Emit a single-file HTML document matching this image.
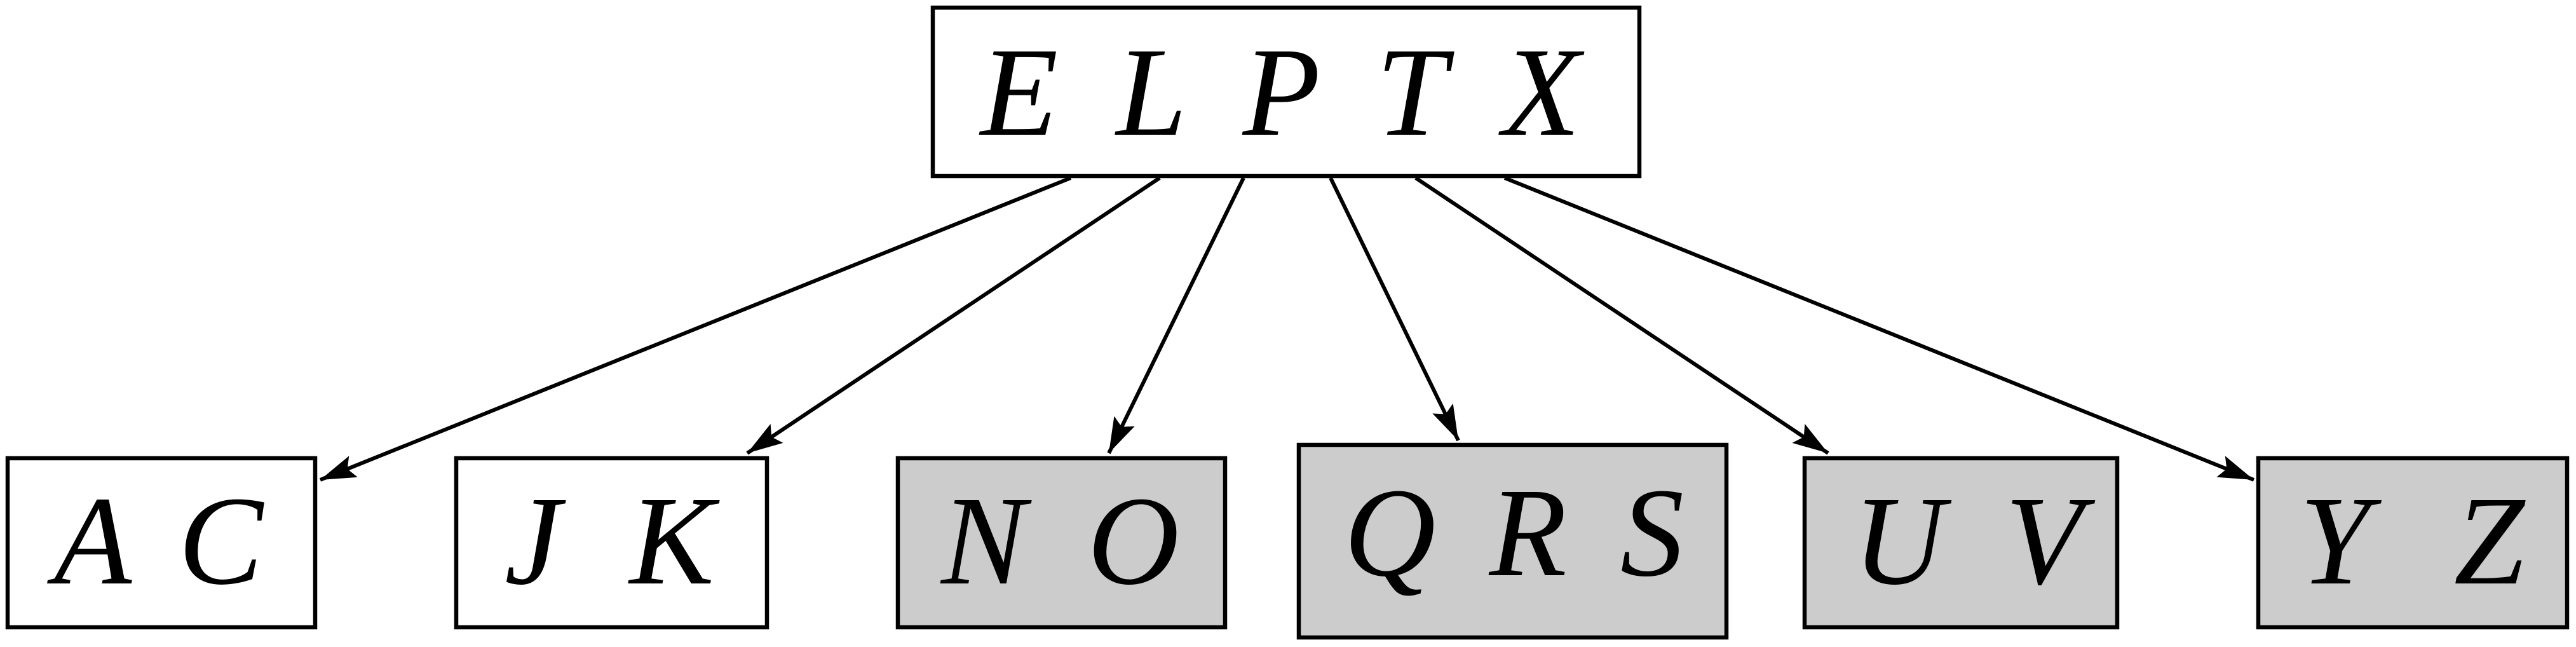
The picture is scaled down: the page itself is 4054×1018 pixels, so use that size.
<!DOCTYPE html>
<html><head><meta charset="utf-8"><style>html,body{margin:0;padding:0;background:#fff}svg{display:block}</style></head>
<body>
<svg width="4054" height="1018" viewBox="0 0 4054 1018" xmlns="http://www.w3.org/2000/svg">
<defs>
<marker id="ah" markerUnits="userSpaceOnUse" markerWidth="60" markerHeight="40" refX="56" refY="18" orient="auto">
<path d="M0,0 L56,18 L0,36 L10,18 Z" fill="#000"/>
</marker>
</defs>
<g stroke="#000" stroke-width="6.5">
<rect x="1468" y="12" width="1112" height="265" fill="#fff"/>
<rect x="12" y="721" width="484" height="266" fill="#fff"/>
<rect x="718" y="721" width="489" height="266" fill="#fff"/>
<rect x="1413" y="721" width="515" height="266" fill="#ccc"/>
<rect x="2044" y="700" width="673" height="303" fill="#ccc"/>
<rect x="2840" y="721" width="492" height="266" fill="#ccc"/>
<rect x="3554" y="721" width="486" height="266" fill="#ccc"/>
</g>
<g stroke="#000" stroke-width="6" marker-end="url(#ah)">
<line x1="1685" y1="280" x2="504" y2="755"/>
<line x1="1825" y1="280" x2="1176" y2="713"/>
<line x1="1957" y1="280" x2="1745" y2="713"/>
<line x1="2094" y1="280" x2="2295" y2="693"/>
<line x1="2228" y1="280" x2="2877" y2="713"/>
<line x1="2368" y1="280" x2="3547" y2="755"/>
</g>
<g font-family="Liberation Serif, serif" font-style="italic" font-size="200" fill="#000">
<text x="1543" y="212" textLength="944" lengthAdjust="spacing">E L P T X</text>
<text x="85" y="918" textLength="329" lengthAdjust="spacing">A C</text>
<text x="794" y="918" textLength="330" lengthAdjust="spacing">J K</text>
<text x="1481" y="918" textLength="375" lengthAdjust="spacing">N O</text>
<text x="2115" y="905" textLength="535" lengthAdjust="spacing">Q R S</text>
<text x="2916" y="918" textLength="362" lengthAdjust="spacing">U V</text>
<text x="3619" y="918" textLength="354" lengthAdjust="spacing">Y Z</text>
</g>
</svg>
</body></html>
